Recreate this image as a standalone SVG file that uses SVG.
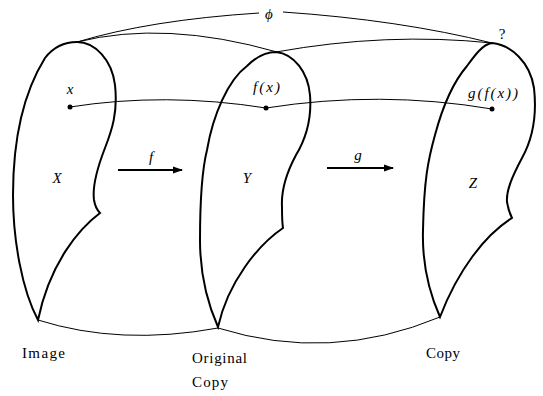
<svg xmlns="http://www.w3.org/2000/svg" width="543" height="396" viewBox="0 0 543 396">
<style>
.shape{fill:none;stroke:#000;stroke-width:2;stroke-linejoin:miter}
.thin{fill:none;stroke:#000;stroke-width:1}
.arr{fill:none;stroke:#000;stroke-width:2}
.it{font-family:'Liberation Serif','DejaVu Serif',serif;font-style:italic;font-size:15px;fill:#000}
.lbl{font-family:'Liberation Serif','DejaVu Serif',serif;font-size:15px;fill:#000}
</style>
<defs>
<marker id="ah" viewBox="0 0 10 10" refX="9" refY="5" markerWidth="5" markerHeight="5" orient="auto" markerUnits="strokeWidth">
<path d="M0,1.5 L10,5 L0,8.5 Z" fill="#000"/>
</marker>
</defs>
<rect width="543" height="396" fill="#fff"/>
<g id="connectors">
<path class="thin" d="M77,42 Q165,20 277,52"/>
<path class="thin" d="M276,52 Q387,32 492,43"/>
<path class="thin" d="M77,42 Q150,20 259,13"/>
<path class="thin" d="M283,12 Q400,20 492,43"/>
<path class="thin" d="M70,107 Q165,92 266,108"/>
<path class="thin" d="M266,108 Q380,90 492,109"/>
<path class="thin" d="M38,320 Q120,346 218,328"/>
<path class="thin" d="M218,328 Q330,363 440,317"/>
<line class="arr" x1="118" y1="170" x2="182" y2="170" marker-end="url(#ah)"/>
<line class="arr" x1="327" y1="168" x2="393" y2="168" marker-end="url(#ah)"/>
<text class="it" x="269" y="19" text-anchor="middle">ϕ</text>
<text class="it" x="151" y="162" text-anchor="middle">f</text>
<text class="it" x="358" y="160" text-anchor="middle">g</text>
<text class="lbl" x="502" y="39" font-size="7" text-anchor="middle">?</text>
</g>
<g id="X">
<path class="shape" d="M77,42 C95,42 112,60 115,85 C118,112 112,130 105,148 C98,166 92,185 94,200 C95,206 97,210 100,213 C80,228 50,262 38,320 C22,290 13,240 13,195 C13,140 22,95 45,58 C55,45 66,42 77,42 Z"/>
<circle cx="70" cy="107" r="2.5" fill="#000"/>
<text class="it" x="70" y="94" text-anchor="middle" font-size="14">x</text>
<text class="it" x="57" y="183" text-anchor="middle">X</text>
<text class="lbl" x="22" y="358" textLength="43">Image</text>
</g>
<g id="Y">
<path class="shape" d="M276,52 C294,54 308,72 310,95 C312,120 305,140 296,155 C288,170 281,190 282,207 C282,215 282,222 283,228 C258,245 228,282 218,327 C206,300 200,270 200,240 C200,200 202,170 207,150 C213,115 228,80 247,66 C256,57 266,52 276,52 Z"/>
<circle cx="266" cy="108" r="2.5" fill="#000"/>
<text class="it" x="253" y="92" textLength="27" font-size="14">f(x)</text>
<text class="it" x="247" y="183" text-anchor="middle">Y</text>
<text class="lbl" x="192" y="363" textLength="55">Original</text>
<text class="lbl" x="192" y="387" textLength="36">Copy</text>
</g>
<g id="Z">
<path class="shape" d="M492,43 C511,45 530,62 534,88 C537,115 532,140 522,158 C513,175 506,190 507,202 C508,208 510,214 512,218 C485,235 458,270 440,317 C428,290 422,262 423,230 C424,180 428,160 435,135 C443,105 455,80 467,66 C475,55 483,44 492,43 Z"/>
<circle cx="492" cy="109" r="2.5" fill="#000"/>
<text class="it" x="468" y="98" textLength="50" font-size="14">g(f(x))</text>
<text class="it" x="473" y="188" text-anchor="middle">Z</text>
<text class="lbl" x="426" y="358" textLength="34">Copy</text>
</g>
</svg>
